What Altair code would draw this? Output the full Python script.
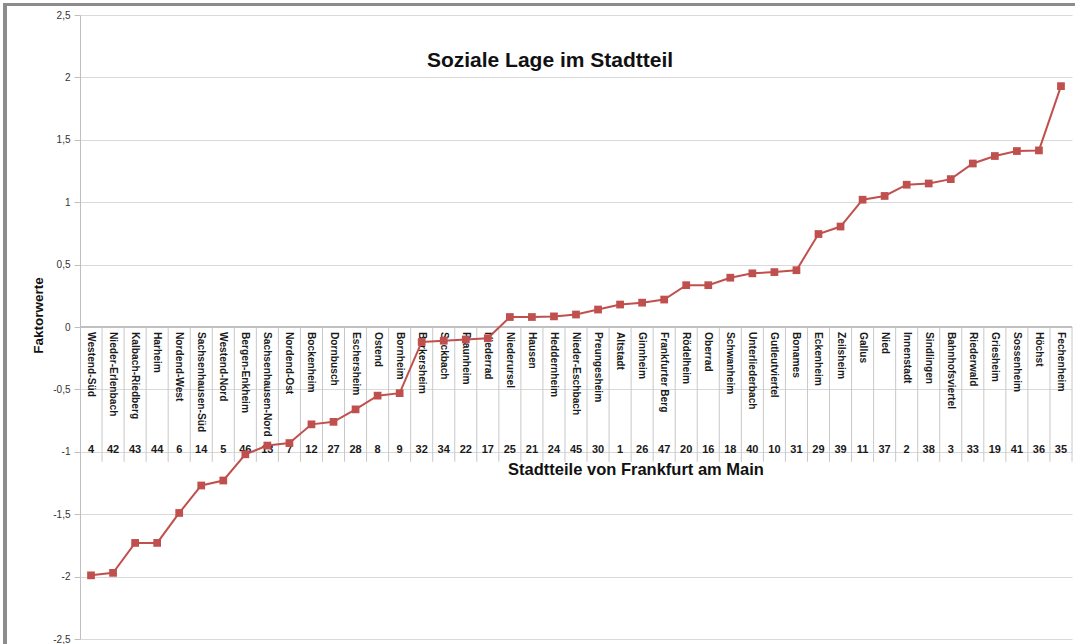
import altair as alt
import pandas as pd

names = ["Westend-Süd", "Nieder-Erlenbach", "Kalbach-Riedberg", "Harheim", "Nordend-West",
         "Sachsenhausen-Süd", "Westend-Nord", "Bergen-Enkheim", "Sachsenhausen-Nord", "Nordend-Ost",
         "Bockenheim", "Dornbusch", "Eschersheim", "Ostend", "Bornheim",
         "Berkersheim", "Seckbach", "Praunheim", "Niederrad", "Niederursel",
         "Hausen", "Heddernheim", "Nieder-Eschbach", "Preungesheim", "Altstadt",
         "Ginnheim", "Frankfurter Berg", "Rödelheim", "Oberrad", "Schwanheim",
         "Unterliederbach", "Gutleutviertel", "Bonames", "Eckenheim", "Zeilsheim",
         "Gallus", "Nied", "Innenstadt", "Sindlingen", "Bahnhofsviertel",
         "Riederwald", "Griesheim", "Sossenheim", "Höchst", "Fechenheim"]
numbers = ["4", "42", "43", "44", "6", "14", "5", "46", "13", "7",
           "12", "27", "28", "8", "9", "32", "34", "22", "17", "25",
           "21", "24", "45", "30", "1", "26", "47", "20", "16", "18",
           "40", "10", "31", "29", "39", "11", "37", "2", "38", "3",
           "33", "19", "41", "36", "35"]
values = [-1.99, -1.97, -1.73, -1.73, -1.49, -1.27, -1.23, -1.02, -0.95, -0.93,
          -0.78, -0.76, -0.66, -0.55, -0.53, -0.12, -0.11, -0.10, -0.09, 0.08,
          0.08, 0.085, 0.10, 0.14, 0.18, 0.195, 0.22, 0.335, 0.335, 0.395,
          0.43, 0.44, 0.455, 0.745, 0.805, 1.02, 1.05, 1.14, 1.15, 1.185,
          1.31, 1.37, 1.41, 1.415, 1.93]
y_ticks = [-2.5, -2.0, -1.5, -1.0, -0.5, 0.0, 0.5, 1.0, 1.5, 2.0, 2.5]

df = pd.DataFrame({"Stadtteil": names, "Nr": numbers, "Faktorwert": values})

W, H = 992, 624
RED = "#c0504d"
FONT = "Liberation Sans"

xscale = alt.Scale(type="band", domain=names, paddingInner=0, paddingOuter=0)
yscale = alt.Scale(domain=[-2.5, 2.5], nice=False, zero=False)

xc = alt.X("Stadtteil:N", scale=xscale, axis=None, sort=names, bandPosition=0.5)
xr = alt.X("Stadtteil:N", scale=xscale, axis=None, sort=names, bandPosition=1)

base = alt.Chart(df)

yaxis = alt.Axis(values=y_ticks, labelExpr="replace(toString(datum.value), '.', ',')",
                 grid=True, gridColor="#d9d9d9", gridWidth=1,
                 domainColor="#bfbfbf", tickColor="#bfbfbf", tickSize=6,
                 labelPadding=4, labelFontSize=10, labelColor="#333333", labelFont=FONT,
                 title="Faktorwerte", titleFont=FONT, titleFontSize=13.5, titleFontWeight="bold",
                 titleColor="#111111", titleX=-42, titleY=300, titleBaseline="middle")

grid = base.mark_line(opacity=0).encode(
    x=xc, y=alt.Y("Faktorwert:Q", scale=yscale, axis=yaxis))

zero = base.mark_rule(color="#bfbfbf", strokeWidth=1).encode(
    y=alt.datum(0), x=alt.value(0), x2=alt.value(W))

seps = base.mark_rule(color="#c8c8c8", strokeWidth=1).encode(
    x=xr, y=alt.datum(0), y2=alt.datum(-1.08))

labels = base.mark_text(angle=90, align="left", baseline="middle", dx=5,
                        fontSize=10.2, font=FONT, fontWeight="bold", color="#1a1a1a").encode(
    x=xc, y=alt.datum(0), text="Stadtteil:N")

nums = base.mark_text(align="center", baseline="alphabetic", dy=1,
                      fontSize=11, font=FONT, fontWeight="bold", color="#1a1a1a").encode(
    x=xc, y=alt.datum(-1), text="Nr:N")

line = base.mark_line(color=RED, strokeWidth=2).encode(
    x=xc, y=alt.Y("Faktorwert:Q", scale=yscale))

pts = base.mark_point(shape="square", filled=True, size=60, color=RED, opacity=1).encode(
    x=xc, y=alt.Y("Faktorwert:Q", scale=yscale))

title = alt.Chart(pd.DataFrame({"t": ["Soziale Lage im Stadtteil"]})).mark_text(
    font=FONT, fontSize=21, fontWeight="bold", color="#111111", align="center", baseline="middle").encode(
    x=alt.value(470), y=alt.value(46), text="t:N")

xtitle = alt.Chart(pd.DataFrame({"t": ["Stadtteile von Frankfurt am Main"]})).mark_text(
    font=FONT, fontSize=16.5, fontWeight="bold", color="#111111", align="center", baseline="middle").encode(
    x=alt.value(556), y=alt.value(455), text="t:N")

frame_left = base.mark_rule(color="#8c8c8c", strokeWidth=3).encode(
    x=alt.value(-75), y=alt.value(-12), y2=alt.value(H + 10))
frame_top = base.mark_rule(color="#8c8c8c", strokeWidth=3).encode(
    x=alt.value(-76), x2=alt.value(W + 10), y=alt.value(-10.5))

chart = alt.layer(grid, zero, seps, labels, nums, line, pts, title, xtitle, frame_left, frame_top).properties(
    width=W, height=H,
    padding={"left": 80, "top": 15, "right": 3, "bottom": 5},
    autosize=alt.AutoSizeParams(type="none"),
    background="white",
).configure_view(stroke=None)

chart.save("out.html", embed_options={"renderer": "svg", "actions": False})
